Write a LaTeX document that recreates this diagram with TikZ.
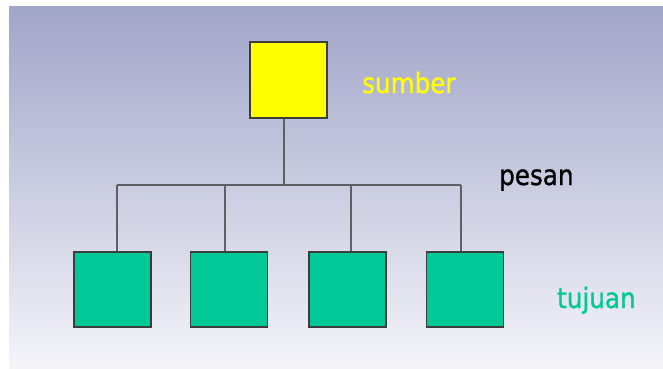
\documentclass[tikz,border=0pt]{standalone}
\usepackage{fontspec}
\setmainfont[FakeStretch=0.88,FakeBold=1]{DejaVu Sans}
\definecolor{bgtop}{RGB}{161,165,200}
\definecolor{bgbot}{RGB}{244,244,249}
\definecolor{srcyel}{RGB}{255,255,0}
\definecolor{dstgreen}{RGB}{0,200,150}
\definecolor{edgegray}{RGB}{60,60,60}
\definecolor{linegray}{RGB}{95,95,100}
\tikzset{
  box/.style={draw=edgegray, line width=1.3pt, inner sep=0pt, minimum width=77pt, minimum height=76pt},
  srcbox/.style={box, fill=srcyel},
  dstbox/.style={box, fill=dstgreen, minimum height=75pt},
  conn/.style={draw=linegray, line width=1.4pt},
  lbl/.style={inner sep=0pt, anchor=base west, font=\fontsize{28pt}{30pt}\selectfont}
}
\begin{document}
\begin{tikzpicture}[x=1pt,y=-1pt]
\useasboundingbox (0,0) rectangle (663,368);
\fill[white] (0,0) rectangle (663,368);
\shade[top color=bgtop, bottom color=bgbot] (9,6) rectangle (663,368);
\node[srcbox] (src) at (288.5,80) {};
\node[dstbox] (t1) at (112.5,289.5) {};
\node[dstbox] (t2) at (229,289.5) {};
\node[dstbox] (t3) at (347.5,289.5) {};
\node[dstbox] (t4) at (465,289.5) {};
\coordinate (bar) at (284,185);
\coordinate (barL) at (117,185);
\coordinate (barR) at (461,185);
\coordinate (b2) at (225,185);
\coordinate (b3) at (351,185);
\draw[conn] ([xshift=-4.5pt]src.south) -- (bar);
\draw[conn] (barL) -- (barR);
\draw[conn] (barL) -- (barL |- t1.north);
\draw[conn] (b2) -- (b2 |- t2.north);
\draw[conn] (b3) -- (b3 |- t3.north);
\draw[conn] (barR) -- (barR |- t4.north);
\node[lbl, text=srcyel] (sumber) at (362,93) {sumber};
\node[lbl, text=black] (pesan) at (499,185) {pesan};
\node[lbl, text=dstgreen] (tujuan) at (557,308) {tujuan};
\end{tikzpicture}
\end{document}
